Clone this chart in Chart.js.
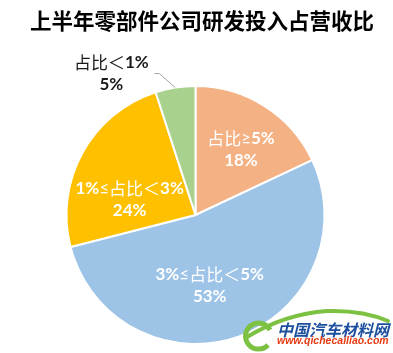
<!DOCTYPE html>
<html>
<head>
<meta charset="utf-8">
<script src="https://cdn.jsdelivr.net/npm/chart.js@4"></script>
<style>
body{margin:0;background:#fff;}
#wrap{position:relative;width:393px;height:353px;overflow:hidden;}
#logo{position:absolute;left:0;top:0;}
.lg1{position:absolute;left:277px;top:317px;font:italic bold 16px "Noto Sans CJK SC";color:#1d4f9f;white-space:nowrap;}
.lg2{position:absolute;left:277px;top:334px;font:italic bold 10.5px "Liberation Sans";color:#e63a12;white-space:nowrap;}
</style>
</head>
<body>
<div id="wrap">
<canvas id="pie" width="393" height="353"></canvas>
<svg id="logo" width="393" height="353">
  <path d="M244,353 L244,338 Q280,312 327,311 Q365,311 393,322 L393,353 Z" fill="#fff"/>
  <path d="M247,337 Q285,314 327,311 Q363,310 388,321" fill="none" stroke="#7cc142" stroke-width="4" stroke-linecap="round"/>
  <path d="M270,330 A13,13 0 1 0 268,345" fill="none" stroke="#7cc142" stroke-width="5"/>
</svg>
<div class="lg1">中国汽车材料网</div>
<div class="lg2">www.qichecailiao.com</div>
</div>
<script>
const title = '上半年零部件公司研发投入占营收比';
const labels = ['占比≥5%', '3%≤占比＜5%', '1%≤占比＜3%', '占比＜1%'];
const values = [18, 53, 24, 5];
const colors = ['#F4B183', '#9DC3E6', '#FFC000', '#A9D18E'];

// where each label sits relative to its slice
const labelStyle = [
    {r: 0.6, dx: 4, dy: 0, color: '#fff'},
    {r: 0.6, dx: -12, dy: -2, color: '#fff'},
    {r: 0.6, dx: 2, dy: 22, color: '#fff'},
    {outside: true, color: '#1a1a1a'}
];

function fontFor(kind, size) {
    if (kind == 'cjk') return size + 'px "Noto Sans CJK SC"';
    if (kind == 'sym') return size + 'px Lato, "DejaVu Sans"';
    return 'bold ' + size + 'px Lato, "Noto Sans CJK SC"';
}

function splitRuns(s) {
    let out = [];
    for (const ch of s) {
        let k = /[≤≥]/.test(ch) ? 'sym' : /[\u4e00-\u9fff\uff00-\uffef]/.test(ch) ? 'cjk' : 'lat';
        if (out.length && out[out.length - 1].k == k) out[out.length - 1].t += ch;
        else out.push({t: ch, k: k});
    }
    return out;
}

function drawMixed(ctx, s, cx, cy, size, color) {
    let runs = splitRuns(s);
    let w = 0;
    runs.forEach(r => {
        ctx.font = fontFor(r.k, size);
        r.w = ctx.measureText(r.t).width;
        w += r.w;
    });
    let x = cx - w / 2;
    ctx.fillStyle = color;
    ctx.textAlign = 'left';
    ctx.textBaseline = 'middle';
    runs.forEach(r => {
        ctx.font = fontFor(r.k, size);
        ctx.fillText(r.t, x, cy);
        x += r.w;
    });
}

const pieLabels = {
    id: 'pieLabels',
    afterDatasetsDraw(chart) {
        const ctx = chart.ctx;
        const meta = chart.getDatasetMeta(0);
        ctx.save();
        meta.data.forEach((arc, i) => {
            const p = arc.getProps(['x', 'y', 'startAngle', 'endAngle', 'outerRadius'], true);
            const mid = (p.startAngle + p.endAngle) / 2;
            const st = labelStyle[i];
            let lx, ly;
            if (st.outside) {
                const ex = p.x + Math.cos(mid) * p.outerRadius;
                const ey = p.y + Math.sin(mid) * p.outerRadius;
                ctx.strokeStyle = '#a6a6a6';
                ctx.lineWidth = 1;
                ctx.beginPath();
                ctx.moveTo(ex, ey);
                ctx.lineTo(ex - 16, ey - 14);
                ctx.lineTo(ex - 21, ey - 14);
                ctx.stroke();
                lx = ex - 64;
                ly = ey - 14;
            } else {
                lx = p.x + Math.cos(mid) * p.outerRadius * st.r + st.dx;
                ly = p.y + Math.sin(mid) * p.outerRadius * st.r + st.dy;
            }
            drawMixed(ctx, labels[i], lx, ly - 11, 17, st.color);
            drawMixed(ctx, values[i] + '%', lx, ly + 11, 17, st.color);
        });
        ctx.font = 'bold 21.5px "Noto Sans CJK SC"';
        ctx.fillStyle = '#000';
        ctx.textAlign = 'center';
        ctx.textBaseline = 'middle';
        ctx.fillText(title, 202, 21);
        ctx.restore();
    }
};

new Chart(document.getElementById('pie'), {
    type: 'pie',
    data: {
        labels: labels,
        datasets: [{
            data: values,
            backgroundColor: colors,
            borderColor: '#fff',
            borderWidth: 2
        }]
    },
    options: {
        responsive: false,
        animation: false,
        layout: {padding: {top: 85, bottom: 8, left: 0, right: 2}},
        plugins: {
            legend: {display: false},
            tooltip: {enabled: false},
            title: {display: false}
        }
    },
    plugins: [pieLabels]
});
</script>
</body>
</html>
